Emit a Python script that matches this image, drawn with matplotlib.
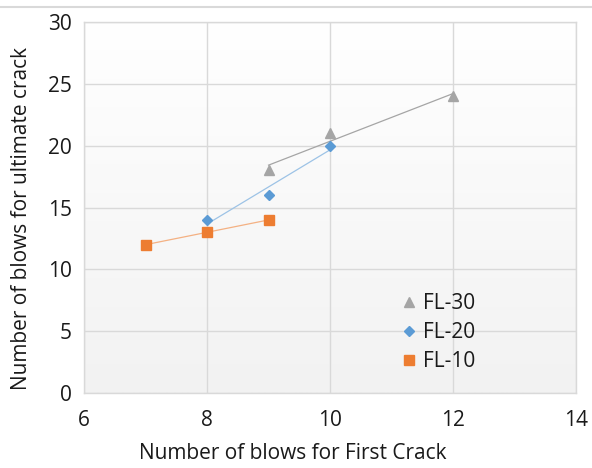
import numpy as np
import matplotlib
matplotlib.use("Agg")
import matplotlib.pyplot as plt
from matplotlib.lines import Line2D

plt.rcParams['font.family'] = ['Open Sans', 'DejaVu Sans']

# data
fl30_x = [9, 10, 12]
fl30_y = [18, 21, 24]
fl20_x = [8, 9, 10]
fl20_y = [14, 16, 20]
fl10_x = [7, 8, 9]
fl10_y = [12, 13, 14]

series = [
    ("FL-30", fl30_x, fl30_y, '^', '#a5a5a5', '#a5a5a5', 7.5),
    ("FL-20", fl20_x, fl20_y, 'D', '#5b9bd5', '#9dc3e6', 5.5),
    ("FL-10", fl10_x, fl10_y, 's', '#ed7d31', '#f4b183', 7),
]

fig = plt.figure(figsize=(5.92, 4.68), dpi=100)
ax = fig.add_axes([0.142, 0.160, 0.831, 0.793])

# gradient plot area, white at top to light grey at bottom
grad = np.linspace(1.0, 0.0, 256).reshape(-1, 1)
ax.imshow(grad, extent=[0, 1, 0, 1], transform=ax.transAxes, aspect='auto',
          cmap=matplotlib.colors.LinearSegmentedColormap.from_list('g', ['#f2f2f2', '#ffffff']),
          zorder=0)

handles = []
for name, xs, ys, mk, col, tcol, ms in series:
    k, b = np.polyfit(xs, ys, 1)   # linear trendline
    xx = np.array([min(xs), max(xs)])
    ax.plot(xx, k * xx + b, color=tcol, lw=0.9, zorder=2)
    h, = ax.plot(xs, ys, linestyle='none', marker=mk, color=col, ms=ms, zorder=3, label=name)
    handles.append(h)

ax.set_xlim(6, 14)
ax.set_ylim(0, 30)
ax.set_xticks(range(6, 15, 2))
ax.set_yticks(range(0, 31, 5))
ax.grid(True, color='#d9d9d9', lw=1)
ax.set_axisbelow(True)
ax.tick_params(length=0, labelsize=15, colors='#1a1a1a')
ax.tick_params(axis='x', pad=12)
ax.tick_params(axis='y', pad=9)
for s in ax.spines.values():
    s.set_color('#d9d9d9')
    s.set_linewidth(1)

ax.set_xlabel("Number of blows for First Crack", fontsize=15, va='center', color='#1a1a1a')
ax.set_ylabel("Number of blows for ultimate crack", fontsize=15, va='center', color='#1a1a1a')
ax.xaxis.set_label_coords(0.425, -0.163)
ax.yaxis.set_label_coords(-0.128, 0.47)

ax.legend(handles=handles, loc='upper left', bbox_to_anchor=(0.601, 0.32), frameon=False,
          fontsize=15, handlelength=1.0, handletextpad=0.2, labelspacing=0.38,
          labelcolor='#1a1a1a')

fig.add_artist(Line2D([0, 1], [1 - 7 / 468, 1 - 7 / 468], transform=fig.transFigure,
                      color='#d9d9d9', lw=1.5))

fig.savefig("out.png", dpi=100)
